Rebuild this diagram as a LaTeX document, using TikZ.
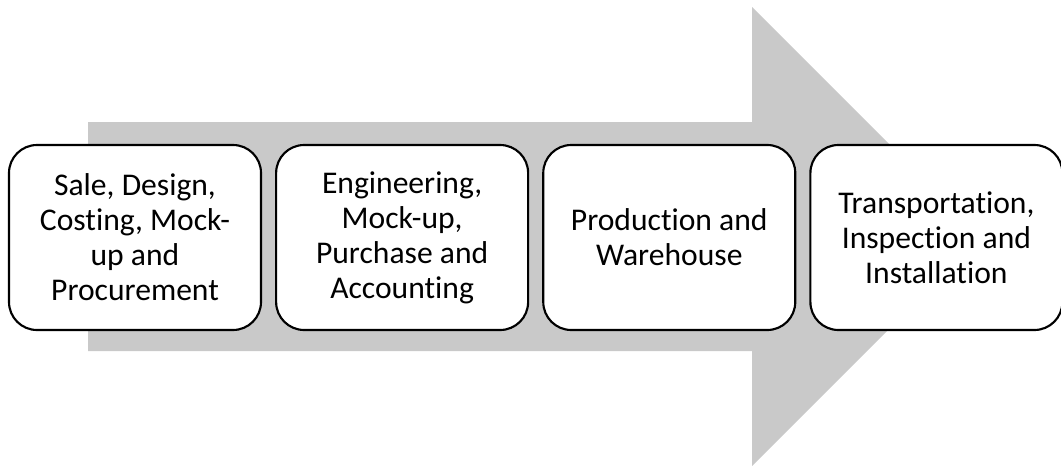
\documentclass[tikz,border=0pt]{standalone}
\usepackage{fontspec}
\setmainfont{Carlito}[Ligatures={NoCommon}]
\usepackage{tikz}
\usetikzlibrary{positioning}
\definecolor{arrowgray}{RGB}{201,201,201}

\begin{document}
\begin{tikzpicture}[x=0.75pt,y=0.75pt,yscale=-1,xscale=1,
  stage/.style={draw=black, line width=1.6pt, fill=white, rounded corners=21pt,
    minimum width=189pt, minimum height=138.75pt, inner sep=0.75pt,
    align=center, font=\fontsize{23.7}{26.2}\selectfont},
  node distance=9.75pt]
\useasboundingbox (0,0) rectangle (1061,465);

% Big Arrow
\fill [arrowgray] (88,122) -- (752,122) -- (752,7) -- (981.5,236.5) -- (752,466) -- (752,351) -- (88,351) -- cycle ;

% Text Node
\node [stage] (sale) at (135,237.5) {Sale, Design,\\Costing, Mock-\\up and\\Procurement};
% Text Node
\node [stage, right=of sale] (eng) {Engineering,\\Mock-up,\\Purchase and\\Accounting};
% Text Node
\node [stage, right=of eng] (prod) {Production and\\Warehouse};
% Text Node
\node [stage, right=of prod] (trans) {Transportation,\\Inspection and\\Installation};

\end{tikzpicture}
\end{document}
